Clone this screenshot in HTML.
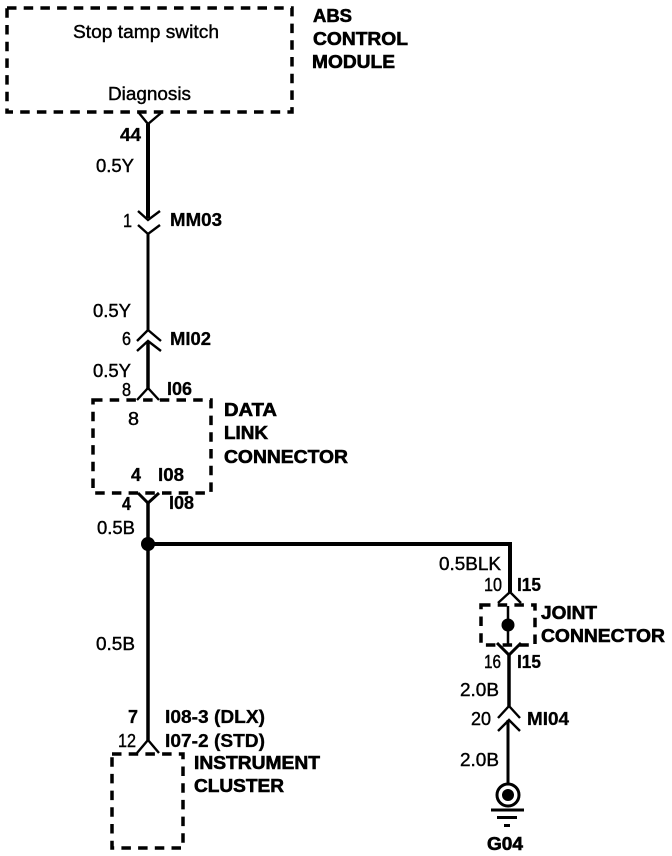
<!DOCTYPE html>
<html>
<head>
<meta charset="utf-8">
<style>
html,body{margin:0;padding:0;background:#fff;width:672px;height:856px;overflow:hidden}
svg{display:block}
text{font-family:"Liberation Sans",sans-serif;font-size:18px;fill:#000;stroke:#000;stroke-width:.4}
.b{font-weight:bold;font-size:18px;stroke-width:.6}
.m{font-weight:bold;font-size:18px;stroke-width:.3}
.w{fill:none;stroke:#000;stroke-width:3.5}
.c{fill:none;stroke:#000;stroke-width:2.4}
.d{fill:none;stroke:#000;stroke-width:3.5;stroke-dasharray:9.5 7.2}
</style>
</head>
<body>
<svg width="672" height="856" viewBox="0 0 672 856" xmlns="http://www.w3.org/2000/svg">
<rect width="672" height="856" fill="#fff"/>

<!-- dashed boxes -->
<rect class="d" x="7" y="8" width="285" height="104"/>
<rect class="d" x="93" y="400" width="118" height="93"/>
<rect class="d" x="481" y="605" width="54" height="40"/>
<rect class="d" x="112" y="754" width="71" height="94"/>

<!-- wires -->
<path class="w" d="M148 124V218" style="stroke-width:4"/>
<path class="w" d="M148 234V330" style="stroke-width:3"/>
<path class="w" d="M148 341V390"/>
<path class="w" d="M148 503V740"/>
<path class="w" d="M148 544H510V592" style="stroke-width:4"/>
<path class="c" d="M508 606V645" style="stroke-width:2.5"/>
<path class="w" d="M509 655V706"/>
<path class="w" d="M508 720V785" style="stroke-width:3"/>

<!-- connector glyphs -->
<path class="c" d="M139 113L148 124L161 113"/>
<path class="c" d="M138 211L148 220L160 211M138 225L148 234L160 225"/>
<path class="c" d="M137 341L148 330L161 341M137 351L148 341L161 351"/>
<path class="c" d="M137 400L148 388L159 400"/>
<path class="c" d="M138 493L148 503L159 493" style="stroke-width:3"/>
<path class="c" d="M137 753L148 740L159 753"/>
<path class="c" d="M498 603L510 592L521 603"/>
<path class="c" d="M497 643L509 655L521 643" style="stroke-width:3"/>
<path class="c" d="M498 718L509 706L520 718M498 731L509 720L520 731"/>

<!-- junction dots -->
<circle cx="148" cy="544" r="7"/>
<circle cx="508" cy="625" r="6.5"/>

<!-- ground -->
<circle cx="508" cy="795" r="11" fill="none" stroke="#000" stroke-width="3"/>
<circle cx="508" cy="795" r="6"/>
<path d="M491 810H524" stroke="#000" stroke-width="3"/>
<path d="M497 817.500H517" stroke="#000" stroke-width="3"/>
<path d="M504 825.500H510" stroke="#000" stroke-width="3"/>

<!-- labels -->
<text x="73" y="38" textLength="146" lengthAdjust="spacingAndGlyphs">Stop tamp switch</text>
<text x="108" y="100" textLength="83" lengthAdjust="spacingAndGlyphs">Diagnosis</text>
<text class="b" x="313" y="22" textLength="39" lengthAdjust="spacingAndGlyphs">ABS</text>
<text class="b" x="313" y="45" textLength="95" lengthAdjust="spacingAndGlyphs">CONTROL</text>
<text class="b" x="312" y="68" textLength="83" lengthAdjust="spacingAndGlyphs">MODULE</text>

<text class="m" x="120" y="141" textLength="21" lengthAdjust="spacingAndGlyphs">44</text>
<text x="96" y="172" textLength="38" lengthAdjust="spacingAndGlyphs">0.5Y</text>
<text x="123" y="227" textLength="9" lengthAdjust="spacingAndGlyphs">1</text>
<text class="m" x="170" y="226" textLength="52" lengthAdjust="spacingAndGlyphs">MM03</text>

<text x="93" y="317" textLength="38" lengthAdjust="spacingAndGlyphs">0.5Y</text>
<text x="122" y="345" textLength="9" lengthAdjust="spacingAndGlyphs">6</text>
<text class="m" x="170" y="345" textLength="41" lengthAdjust="spacingAndGlyphs">MI02</text>
<text x="93" y="377" textLength="38" lengthAdjust="spacingAndGlyphs">0.5Y</text>
<text x="122" y="396" textLength="9" lengthAdjust="spacingAndGlyphs">8</text>
<text class="m" x="167" y="395" textLength="25" lengthAdjust="spacingAndGlyphs">I06</text>

<text x="128" y="425" textLength="11" lengthAdjust="spacingAndGlyphs">8</text>
<text class="b" x="224" y="416" textLength="53" lengthAdjust="spacingAndGlyphs">DATA</text>
<text class="b" x="224" y="439" textLength="44" lengthAdjust="spacingAndGlyphs">LINK</text>
<text class="b" x="224" y="463" textLength="124" lengthAdjust="spacingAndGlyphs">CONNECTOR</text>
<text class="m" x="131" y="481" textLength="10" lengthAdjust="spacingAndGlyphs">4</text>
<text class="m" x="158" y="481" textLength="26" lengthAdjust="spacingAndGlyphs">I08</text>
<text class="m" x="122" y="510" textLength="9" lengthAdjust="spacingAndGlyphs">4</text>
<text class="m" x="169" y="509" textLength="25" lengthAdjust="spacingAndGlyphs">I08</text>
<text x="97" y="534" textLength="38" lengthAdjust="spacingAndGlyphs">0.5B</text>
<text x="96" y="650" textLength="39" lengthAdjust="spacingAndGlyphs">0.5B</text>

<text class="m" x="128" y="723" textLength="10" lengthAdjust="spacingAndGlyphs">7</text>
<text class="m" x="165" y="723" textLength="100" lengthAdjust="spacingAndGlyphs">I08-3 (DLX)</text>
<text x="118" y="747" textLength="18" lengthAdjust="spacingAndGlyphs">12</text>
<text class="m" x="165" y="747" textLength="100" lengthAdjust="spacingAndGlyphs">I07-2 (STD)</text>
<text class="b" x="194" y="769" textLength="126" lengthAdjust="spacingAndGlyphs">INSTRUMENT</text>
<text class="b" x="194" y="792" textLength="90" lengthAdjust="spacingAndGlyphs">CLUSTER</text>

<text x="439" y="570" textLength="62" lengthAdjust="spacingAndGlyphs">0.5BLK</text>
<text x="484" y="591" textLength="18" lengthAdjust="spacingAndGlyphs">10</text>
<text class="m" x="517" y="591" textLength="24" lengthAdjust="spacingAndGlyphs">I15</text>
<text class="b" x="541" y="619" textLength="56" lengthAdjust="spacingAndGlyphs">JOINT</text>
<text class="b" x="541" y="642" textLength="124" lengthAdjust="spacingAndGlyphs">CONNECTOR</text>
<text x="484" y="668" textLength="17" lengthAdjust="spacingAndGlyphs">16</text>
<text class="m" x="517" y="668" textLength="24" lengthAdjust="spacingAndGlyphs">I15</text>
<text x="460" y="696" textLength="39" lengthAdjust="spacingAndGlyphs">2.0B</text>
<text x="471" y="725" textLength="20" lengthAdjust="spacingAndGlyphs">20</text>
<text class="m" x="527" y="725" textLength="42" lengthAdjust="spacingAndGlyphs">MI04</text>
<text x="460" y="766" textLength="39" lengthAdjust="spacingAndGlyphs">2.0B</text>
<text class="b" x="487" y="850" textLength="36" lengthAdjust="spacingAndGlyphs">G04</text>
</svg>
</body>
</html>
